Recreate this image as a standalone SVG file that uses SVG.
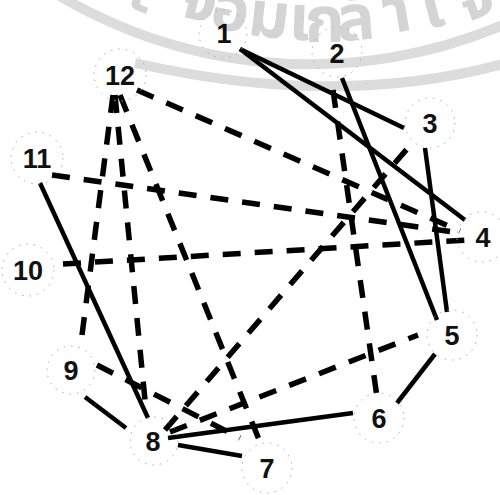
<svg xmlns="http://www.w3.org/2000/svg" width="500" height="495" viewBox="0 0 500 495">
<defs>
<style>
.band{fill:none;stroke:#dcdcdc;stroke-width:10}
.wm{font-family:"Noto Sans Thai","Noto Sans","DejaVu Sans",sans-serif;font-size:64px;fill:#d4d4d4;font-weight:bold;text-anchor:middle}
.solid{fill:none;stroke:#000;stroke-width:4.5}
.dash{fill:none;stroke:#000;stroke-width:5.5;stroke-dasharray:18 14}
.ring{fill:none;stroke:#aaa;stroke-width:1;stroke-dasharray:1.5 6}
.lbl{font-family:"Liberation Sans",Arial,sans-serif;font-size:27px;font-weight:bold;fill:#111;text-anchor:middle}
</style>
</defs>
<rect width="500" height="495" fill="#fff"/>
<g id="watermark">
<path class="band" d="M 20 -30 A 494 494 0 0 0 510 22"/>
<path class="band" d="M 135 63 Q 340 110 510 62"/>
<text class="wm" x="137" y="13" transform="rotate(22 137 13)">ะ</text>
<text class="wm" x="195" y="20" transform="rotate(15 195 20)">จ</text>
<text class="wm" x="227" y="30" transform="rotate(11 227 30)">อ</text>
<text class="wm" x="267" y="37" transform="rotate(6.5 267 37)">ม</text>
<text class="wm" x="299" y="40" transform="rotate(2.6 299 40)">เ</text>
<text class="wm" x="325" y="42" transform="rotate(-0.6 325 42)">ก</text>
<text class="wm" x="357" y="40" transform="rotate(-4.5 357 40)">ล้</text>
<text class="wm" x="400" y="32" transform="rotate(-9.8 400 32)">า</text>
<text class="wm" x="437" y="27" transform="rotate(-14.4 437 27)">เ</text>
<text class="wm" x="482" y="17" transform="rotate(-19.9 482 17)">จ้</text>
</g>
<g id="connectors">
<line class="solid" x1="240" y1="49" x2="404" y2="128"/>
<line class="solid" x1="240" y1="49" x2="465" y2="220"/>
<line class="solid" x1="342" y1="78" x2="437" y2="320"/>
<line class="solid" x1="425" y1="148" x2="447" y2="312"/>
<line class="solid" x1="40" y1="183" x2="148" y2="418"/>
<line class="solid" x1="85" y1="397" x2="126" y2="428"/>
<line class="solid" x1="168" y1="438" x2="353" y2="413"/>
<line class="solid" x1="178" y1="445" x2="242" y2="456"/>
<line class="solid" x1="397" y1="403" x2="435" y2="354"/>
<line class="dash" x1="137" y1="90" x2="460" y2="231"/>
<line class="dash" x1="52" y1="175" x2="460" y2="233"/>
<line class="dash" x1="63" y1="264" x2="467" y2="240"/>
<line class="dash" x1="113" y1="95" x2="82" y2="335"/>
<line class="dash" x1="115" y1="95" x2="145" y2="400"/>
<line class="dash" x1="120" y1="95" x2="262" y2="447"/>
<line class="dash" x1="97" y1="365" x2="240" y2="438"/>
<line class="dash" x1="165" y1="430" x2="413" y2="142"/>
<line class="dash" x1="170" y1="432" x2="418" y2="335"/>
<line class="dash" x1="333" y1="90" x2="377" y2="397"/>
</g>
<g id="n1"><circle class="ring" cx="223" cy="34" r="24"/><text class="lbl" x="224" y="43">1</text></g>
<g id="n2"><circle class="ring" cx="337" cy="52" r="25"/><text class="lbl" x="337" y="63">2</text></g>
<g id="n3"><circle class="ring" cx="430" cy="123" r="25"/><text class="lbl" x="430" y="133">3</text></g>
<g id="n4"><circle class="ring" cx="482" cy="237" r="25"/><text class="lbl" x="483" y="247">4</text></g>
<g id="n5"><circle class="ring" cx="452" cy="335" r="25"/><text class="lbl" x="452" y="345">5</text></g>
<g id="n6"><circle class="ring" cx="379" cy="418" r="25"/><text class="lbl" x="379" y="428">6</text></g>
<g id="n7"><circle class="ring" cx="267" cy="468" r="25"/><text class="lbl" x="267" y="478">7</text></g>
<g id="n8"><circle class="ring" cx="154" cy="441" r="24"/><text class="lbl" x="153" y="451">8</text></g>
<g id="n9"><circle class="ring" cx="71" cy="370" r="24"/><text class="lbl" x="71" y="380">9</text></g>
<g id="n10"><circle class="ring" cx="28" cy="270" r="26"/><text class="lbl" x="28" y="280">10</text></g>
<g id="n11"><circle class="ring" cx="37" cy="158" r="26"/><text class="lbl" x="37" y="168">11</text></g>
<g id="n12"><circle class="ring" cx="120" cy="75" r="26"/><text class="lbl" x="120" y="85">12</text></g>
</svg>
